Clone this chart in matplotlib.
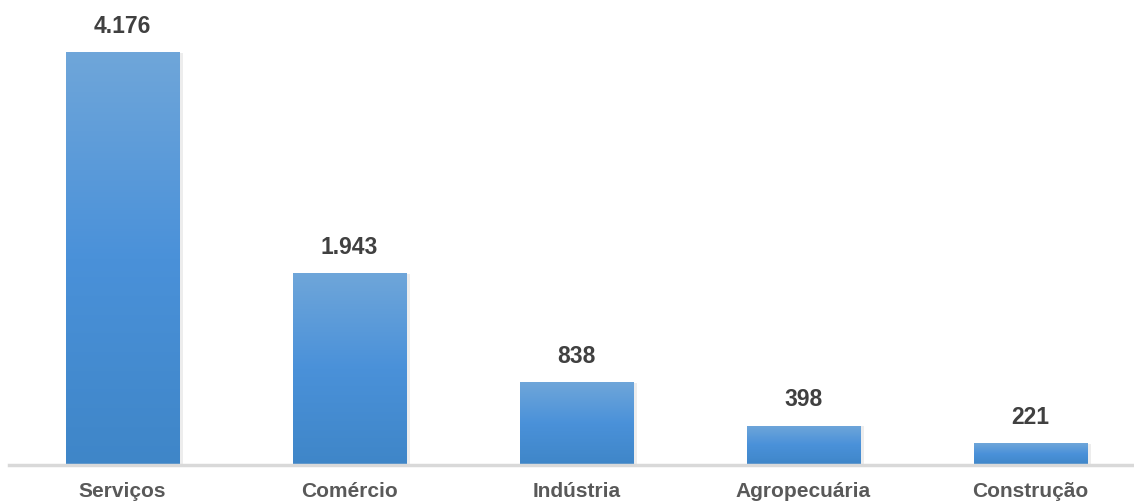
import matplotlib.pyplot as plt
import numpy as np
from matplotlib.colors import LinearSegmentedColormap

categorias = ['Serviços', 'Comércio', 'Indústria', 'Agropecuária', 'Construção']
valores = [4176, 1943, 838, 398, 221]
rotulos = ['4.176', '1.943', '838', '398', '221']

plt.rcParams['font.family'] = ['Liberation Sans', 'DejaVu Sans']

W, H = 1134, 501
fig = plt.figure(figsize=(W / 100, H / 100), dpi=100)
# plot area in pixels: x from 9 to 1144, baseline at y=465 (from top)
ax = fig.add_axes([9 / W, 36 / H, 1135 / W, 465 / H])
escala = 413 / 4176  # px per unit
ax.set_xlim(-0.5, 4.5)
ax.set_ylim(0, 465 / escala)

cmap = LinearSegmentedColormap.from_list('g', ['#3f86c8', '#4a91d9', '#6fa6da'])
grad = np.linspace(0, 1, 256).reshape(-1, 1)
largura = 114 / 227

x = np.arange(len(categorias))
for xi, v in zip(x, valores):
    # sombra
    ax.bar(xi + 0.008, v, width=largura + 0.012, bottom=-8, color='#000000', alpha=0.07, zorder=1)
    b = ax.bar(xi, v, width=largura, color='#4a90d8', zorder=2)[0]
    im = ax.imshow(grad, cmap=cmap, aspect='auto', origin='lower',
                   extent=(xi - largura / 2, xi + largura / 2, 0, v), zorder=3)
    im.set_clip_path(b)

for xi, v, r in zip(x, valores, rotulos):
    ax.annotate(r, (xi, v), xytext=(0, 18.5), textcoords='offset points',
                ha='center', va='center', fontsize=16.5, fontweight='bold', color='#404040')

ax.set_xlim(-0.5, 4.5)
ax.set_ylim(0, 465 / escala)
ax.set_xticks(x)
ax.set_xticklabels(categorias, fontsize=15, fontweight='bold', color='#595959')
ax.tick_params(axis='x', length=0, pad=12)
ax.set_yticks([])
for s in ['top', 'right', 'left']:
    ax.spines[s].set_visible(False)
ax.spines['bottom'].set_color('#d9d9d9')
ax.spines['bottom'].set_linewidth(2.5)
ax.spines['bottom'].set_zorder(5)

fig.savefig('out.png', dpi=100)
